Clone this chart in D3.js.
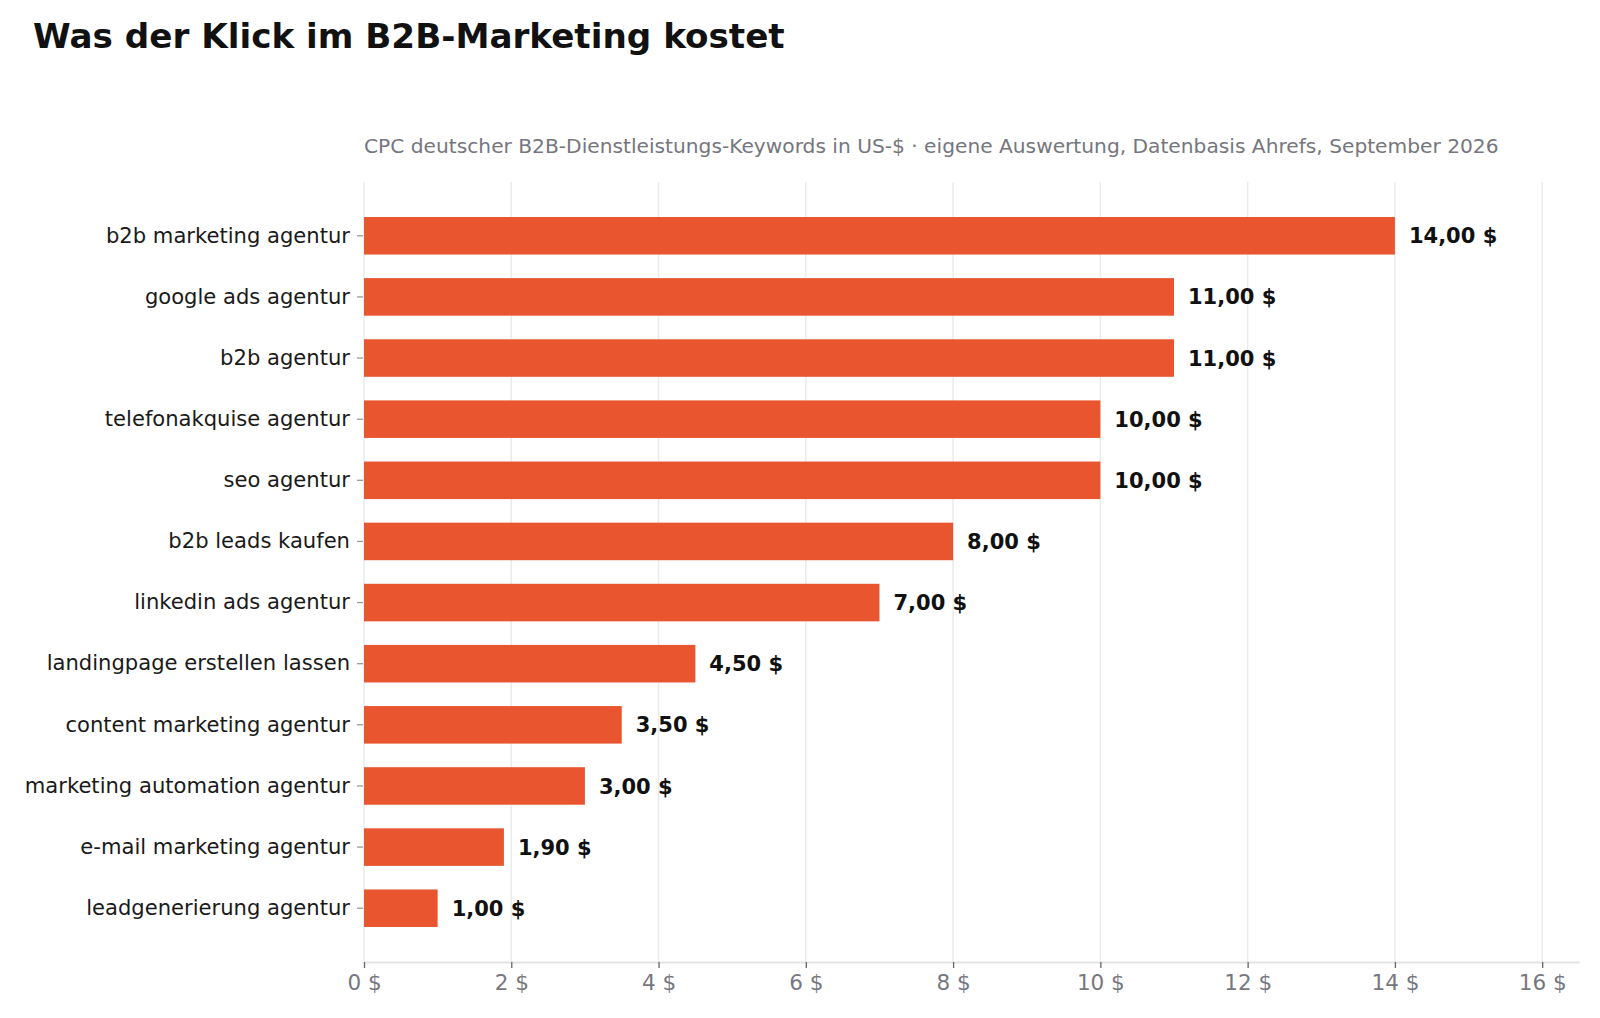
<!DOCTYPE html>
<html>
<head>
<meta charset="utf-8">
<script src="https://cdn.jsdelivr.net/npm/d3@7"></script>
<style>
  body { margin: 0; background: #fff; }
  text { font-family: "DejaVu Sans", sans-serif; }
</style>
</head>
<body>
<div id="chart"></div>
<script>
// data
var keywords = [
    "b2b marketing agentur",
    "google ads agentur",
    "b2b agentur",
    "telefonakquise agentur",
    "seo agentur",
    "b2b leads kaufen",
    "linkedin ads agentur",
    "landingpage erstellen lassen",
    "content marketing agentur",
    "marketing automation agentur",
    "e-mail marketing agentur",
    "leadgenerierung agentur"
];
var cpc = [14.00, 11.00, 11.00, 10.00, 10.00, 8.00, 7.00, 4.50, 3.50, 3.00, 1.90, 1.00];
var xTicks = [0, 2, 4, 6, 8, 10, 12, 14, 16];

var titleText = "Was der Klick im B2B-Marketing kostet";
var subtitleText = "CPC deutscher B2B-Dienstleistungs-Keywords in US-$ \u00b7 eigene Auswertung, Datenbasis Ahrefs, September 2026";

// dimensions
var W = 1600, H = 1018;
var margin = {top: 182, right: 21, bottom: 56, left: 364};

var svg = d3.select("#chart")
    .append("svg")
    .attr("width", W)
    .attr("height", H);

var fmt = function(v) { return v.toFixed(2).replace(".", ",") + " $"; };

var x = d3.scaleLinear()
    .domain([0, 16.5])
    .range([margin.left, W - margin.right]);

// bars sit a bit inside the plot frame
var y = d3.scaleBand()
    .domain(keywords)
    .range([margin.top + 2, H - margin.bottom - 2])
    .paddingInner(0.386)
    .paddingOuter(0.54);

// gridlines
svg.append("g")
    .selectAll("line")
    .data(xTicks)
    .enter()
    .append("line")
    .attr("x1", d => x(d)).attr("x2", d => x(d))
    .attr("y1", margin.top).attr("y2", H - margin.bottom)
    .attr("stroke", "#ebebeb")
    .attr("stroke-width", 1.5);

// bars
svg.append("g")
    .selectAll("rect")
    .data(cpc)
    .enter()
    .append("rect")
    .attr("x", x(0))
    .attr("y", (d, i) => y(keywords[i]))
    .attr("width", d => x(d) - x(0))
    .attr("height", y.bandwidth())
    .attr("fill", "#e8552f");

// value labels
svg.append("g")
    .selectAll("text")
    .data(cpc)
    .enter()
    .append("text")
    .attr("x", d => x(d) + 14)
    .attr("y", (d, i) => y(keywords[i]) + y.bandwidth() / 2)
    .attr("dy", "0.36em")
    .attr("font-size", 21)
    .attr("font-weight", "bold")
    .attr("fill", "#111")
    .text(d => fmt(d));

// x axis
var xAxis = svg.append("g")
    .attr("transform", "translate(0," + (H - margin.bottom) + ")")
    .call(d3.axisBottom(x).tickValues(xTicks).tickFormat(d => d + " $").tickSize(6).tickPadding(7).tickSizeOuter(0));
xAxis.select(".domain").attr("stroke", "#e3e3e3").attr("stroke-width", 2);
xAxis.selectAll(".tick line").attr("stroke", "#666").attr("stroke-width", 1.3);
xAxis.selectAll(".tick text")
    .attr("font-size", 21.5)
    .attr("fill", "#77777f")
    .attr("font-family", "DejaVu Sans, sans-serif");

// y axis
var yAxis = svg.append("g")
    .attr("transform", "translate(" + (margin.left - 1) + ",0)")
    .call(d3.axisLeft(y).tickSize(6).tickPadding(7).tickSizeOuter(0));
yAxis.select(".domain").remove();
yAxis.selectAll(".tick line").attr("stroke", "#999").attr("stroke-width", 1.3);
yAxis.selectAll(".tick text")
    .attr("font-size", 21.1)
    .attr("fill", "#1a1a1a")
    .attr("font-family", "DejaVu Sans, sans-serif");

// title + subtitle
svg.append("text")
    .attr("x", 33)
    .attr("y", 48)
    .attr("font-size", 34.2)
    .attr("font-weight", "bold")
    .attr("fill", "#111")
    .text(titleText);

svg.append("text")
    .attr("x", margin.left)
    .attr("y", 153)
    .attr("font-size", 20.2)
    .attr("fill", "#76767e")
    .text(subtitleText);
</script>
</body>
</html>
